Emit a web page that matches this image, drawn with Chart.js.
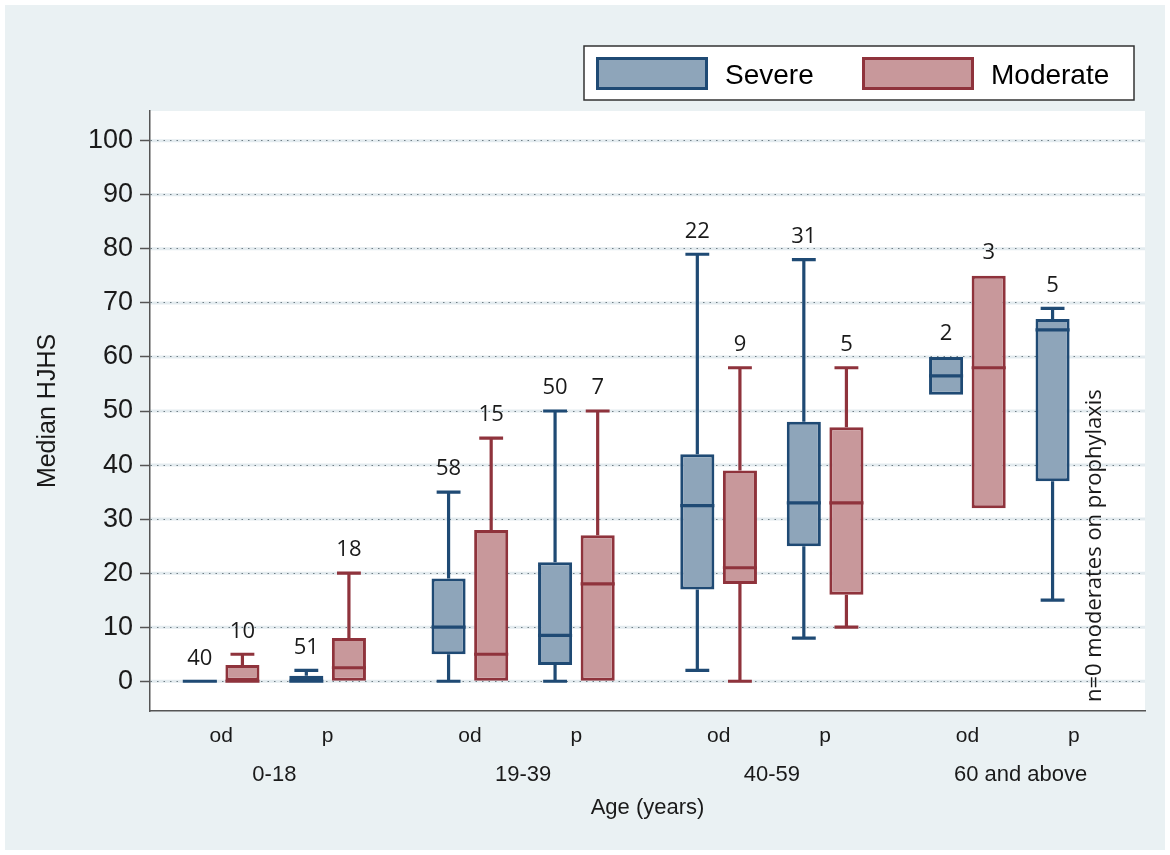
<!DOCTYPE html>
<html>
<head>
<meta charset="utf-8">
<script src="https://cdn.jsdelivr.net/npm/chart.js@4.4.1/dist/chart.umd.min.js"></script>
<style>
html,body{margin:0;padding:0;background:#fff;}
#wrap{width:1170px;height:855px;}
</style>
</head>
<body>
<div id="wrap"><canvas id="c" width="1170" height="855"></canvas></div>
<script>
// ---------- data ----------
const ageGroups = ['0-18', '19-39', '40-59', '60 and above'];
const regimens = ['od', 'p'];
const seriesNames = ['Severe', 'Moderate'];
const yTicks = [0, 10, 20, 30, 40, 50, 60, 70, 80, 90, 100];

// five-number summaries per age group: [min, q1, median, q3, max]
const severeOd = [[0, 0, 0, 0, 0], [0, 5, 10, 19, 35], [2, 17, 32.5, 42, 79], [53, 53, 56.5, 60, 60]];
const severeOdN = [40, 58, 22, 2];
const moderateOd = [[0, 0, 0, 3, 5], [0, 0, 5, 28, 45], [0, 18, 21, 39, 58], [32, 32, 58, 75, 75]];
const moderateOdN = [10, 15, 9, 3];
const severeP = [[0, 0, 0, 1, 2], [0, 3, 8.5, 22, 50], [8, 25, 33, 48, 78], [15, 37, 65, 67, 69]];
const severePN = [51, 50, 31, 5];
const moderateP = [[0, 0, 2.5, 8, 20], [0, 0, 18, 27, 50], [10, 16, 33, 47, 58], null];
const moderatePN = [18, 7, 5, 0];

const noteText = 'n=0 moderates on prophylaxis';
const xTitle = 'Age (years)';
const yTitle = 'Median HJHS';

// ---------- styles ----------
const COLORS = {
  Severe:   { fill: '#8ea5ba', line: '#1f4a74' },
  Moderate: { fill: '#c8989b', line: '#8f333c' }
};
const SANS = "'Liberation Sans', Arial, sans-serif";
const LABEL_FONT = "'Open Sans', 'Noto Sans', sans-serif";
const TEXT = '#1a1a1a';

function boxDataset(series, regimen, summary, counts) {
  return {
    label: series + ' ' + regimen,
    series, regimen, summary, counts,
    data: summary.map(s => s ? [s[1], s[3]] : null),
    backgroundColor: COLORS[series].fill,
    borderColor: COLORS[series].line,
    borderWidth: 3,
    borderSkipped: false
  };
}
function gapDataset() {
  return { label: '', gap: true, data: ageGroups.map(() => null) };
}

// slot layout inside each age group: Sev-od, gap, Mod-od, gap, gap, Sev-p, gap, Mod-p
const datasets = [
  boxDataset('Severe', 'od', severeOd, severeOdN),
  gapDataset(),
  boxDataset('Moderate', 'od', moderateOd, moderateOdN),
  gapDataset(),
  gapDataset(),
  boxDataset('Severe', 'p', severeP, severePN),
  gapDataset(),
  boxDataset('Moderate', 'p', moderateP, moderatePN)
];

const backgroundPlugin = {
  id: 'bg',
  beforeDraw(chart) {
    const { ctx, chartArea: a, scales: { y } } = chart;
    ctx.save();
    ctx.fillStyle = '#ffffff';
    ctx.fillRect(0, 0, chart.width, chart.height);
    ctx.fillStyle = '#eaf1f3';
    ctx.fillRect(5, 5, chart.width - 10, chart.height - 10);
    ctx.fillStyle = '#ffffff';
    ctx.fillRect(a.left, a.top, a.right - a.left, a.bottom - a.top);
    ctx.strokeStyle = '#e3ebef';
    ctx.lineWidth = 3;
    yTicks.forEach(v => {
      const py = y.getPixelForValue(v);
      ctx.beginPath();
      ctx.moveTo(a.left, py);
      ctx.lineTo(a.right, py);
      ctx.stroke();
    });
    ctx.restore();
  }
};

const boxPlugin = {
  id: 'boxes',
  afterDatasetsDraw(chart) {
    const { ctx, chartArea: a, scales: { y } } = chart;
    ctx.save();
    ctx.lineCap = 'butt';
    chart.data.datasets.forEach((ds, di) => {
      if (ds.gap) return;
      const meta = chart.getDatasetMeta(di);
      ds.summary.forEach((s, i) => {
        if (!s) return;
        const el = meta.data[i];
        const x = el.x, w = el.width;
        const [mn, q1, md, q3, mx] = s.map(v => y.getPixelForValue(v));
        ctx.strokeStyle = ds.borderColor;
        ctx.lineWidth = 3.2;
        const cap = w * 0.35;
        if (s[4] > s[3]) {
          ctx.beginPath();
          ctx.moveTo(x, q3); ctx.lineTo(x, mx);
          ctx.moveTo(x - cap, mx); ctx.lineTo(x + cap, mx);
          ctx.stroke();
        }
        if (s[0] < s[1]) {
          ctx.beginPath();
          ctx.moveTo(x, q1); ctx.lineTo(x, mn);
          ctx.moveTo(x - cap, mn); ctx.lineTo(x + cap, mn);
          ctx.stroke();
        }
        // median
        ctx.beginPath();
        ctx.moveTo(x - w / 2, md); ctx.lineTo(x + w / 2, md);
        ctx.stroke();
        // n label
        ctx.fillStyle = TEXT;
        ctx.font = "22px " + LABEL_FONT;
        ctx.textAlign = 'center';
        ctx.textBaseline = 'middle';
        ctx.fillText(String(ds.counts[i]), x, mx - 23);
      });
    });

    // regimen labels under each pair of boxes
    const metas = chart.data.datasets.map((d, i) => ({ d, m: chart.getDatasetMeta(i) })).filter(o => !o.d.gap);
    ctx.fillStyle = TEXT;
    ctx.font = "21px " + SANS;
    ctx.textAlign = 'center';
    ctx.textBaseline = 'middle';
    ageGroups.forEach((g, i) => {
      regimens.forEach(r => {
        const pair = metas.filter(o => o.d.regimen === r);
        const xs = pair.map(o => o.m.data[i].x).filter(Number.isFinite);
        const cx = xs.reduce((p, c) => p + c, 0) / xs.length;
        ctx.fillText(r, cx, a.bottom + 25);
      });
    });

    // note for missing moderate prophylaxis 60+
    const modP = metas.find(o => o.d.series === 'Moderate' && o.d.regimen === 'p');
    ageGroups.forEach((g, i) => {
      if (modP.d.summary[i]) return;
      const nx = modP.m.data[i].x;
      ctx.save();
      ctx.translate(nx, a.bottom - 9);
      ctx.rotate(-Math.PI / 2);
      ctx.font = "22px " + LABEL_FONT;
      ctx.textAlign = 'left';
      ctx.textBaseline = 'middle';
      ctx.fillStyle = TEXT;
      ctx.fillText(noteText, 0, 0);
      ctx.restore();
    });
    ctx.restore();
  },
  afterDraw(chart) {
    // legend
    const { ctx, chartArea: a } = chart;
    const right = a.right - 11;
    const left = right - 550;
    const top = 46, h = 54;
    ctx.save();
    ctx.fillStyle = '#ffffff';
    ctx.fillRect(left, top, right - left, h);
    ctx.strokeStyle = '#333333';
    ctx.lineWidth = 1.5;
    ctx.strokeRect(left, top, right - left, h);
    const itemX = [left + 12, left + 278];
    seriesNames.forEach((s, k) => {
      const sx = itemX[k];
      ctx.fillStyle = COLORS[s].fill;
      ctx.fillRect(sx, top + 11, 112, 33);
      ctx.strokeStyle = COLORS[s].line;
      ctx.lineWidth = 3;
      ctx.strokeRect(sx + 1.5, top + 12.5, 109, 30);
      ctx.fillStyle = '#000000';
      ctx.font = "28px " + SANS;
      ctx.textAlign = 'left';
      ctx.textBaseline = 'middle';
      ctx.fillText(s, sx + 129, top + 30);
    });
    ctx.restore();
  }
};

new Chart(document.getElementById('c'), {
  type: 'bar',
  data: { labels: ageGroups, datasets },
  options: {
    responsive: false,
    animation: false,
    layout: { padding: { top: 111, right: 25, bottom: 0, left: 0 } },
    datasets: { bar: { categoryPercentage: 0.685, barPercentage: 1.6 } },
    plugins: { legend: { display: false }, tooltip: { enabled: false } },
    scales: {
      x: {
        type: 'category',
        offset: true,
        grid: { display: false, drawTicks: false },
        border: { display: true, color: '#555555', width: 1.5 },
        ticks: { padding: 51, color: TEXT, font: { family: SANS, size: 22 }, maxRotation: 0, autoSkip: false },
        title: { display: true, text: xTitle, color: TEXT, font: { family: SANS, size: 22 }, padding: { top: 0, bottom: 34 } },
        afterFit(s) { s.height = 144; }
      },
      y: {
        min: -5.5,
        max: 105.5,
        afterBuildTicks(s) { s.ticks = yTicks.map(v => ({ value: v })); },
        grid: { color: '#6f7e86', lineWidth: 1, drawTicks: true, tickLength: 10, tickColor: '#555555', tickWidth: 1.5, tickBorderDash: [] },
        border: { display: true, color: '#555555', width: 1.5, dash: [1.5, 5] },
        ticks: { padding: 7, color: TEXT, font: { family: SANS, size: 27 } },
        title: { display: true, text: yTitle, color: TEXT, font: { family: SANS, size: 25 }, padding: { top: 33, bottom: 0 } },
        afterFit(s) { s.width = 150; }
      }
    }
  },
  plugins: [backgroundPlugin, boxPlugin]
});
</script>
</body>
</html>
